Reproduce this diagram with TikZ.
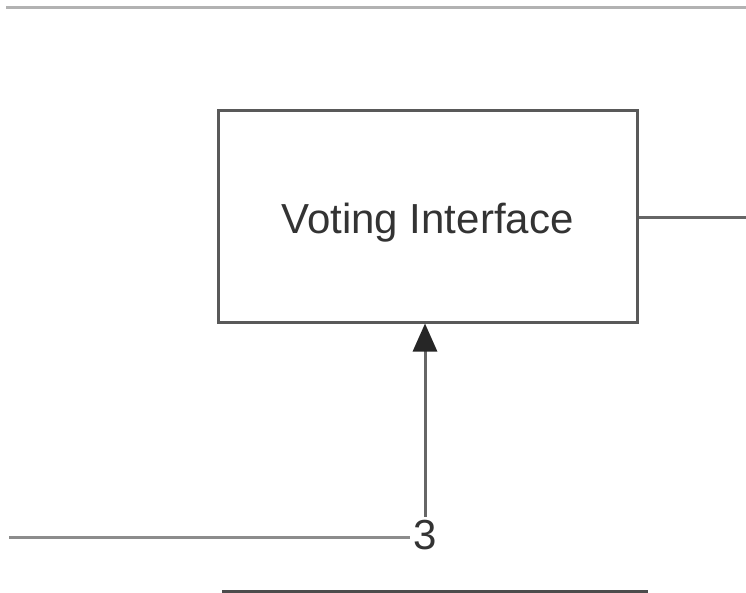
\documentclass[tikz,border=0pt]{standalone}
\usepackage{fontspec}
\setmainfont{Liberation Sans}
\usetikzlibrary{arrows.meta}

\tikzset{
  blockbox/.style={draw=black!65, line width=3pt, minimum width=419pt, minimum height=212pt, inner sep=0pt},
  flowline/.style={draw=black!60, line width=3pt},
  flowlabel/.style={inner sep=3pt, text=black!80}
}

\begin{document}
\begin{tikzpicture}[x=1pt, y=-1pt, font=\fontsize{42}{50}\selectfont]
% Set the canvas to the reference size
\useasboundingbox (0,0) rectangle (746,592);

% Page edge at the top
\draw[black!30, line width=3pt] (6,7) -- (746,7);

% Main block and the step label
\node[blockbox, text=black!80] (vi) at (427.5,216) {\raisebox{-17pt}[0pt][0pt]{Voting Interface}};
\node[flowlabel] (lbl3) at (425,535) {3};

% Free ends of the connectors
\coordinate (leftend) at (9,537);
\coordinate (rightend) at (746,217);

% Connectors
\draw[flowline, -{Triangle[length=28pt, width=24pt, color=black!85]}] (lbl3) -- (vi.south -| lbl3);
\draw[flowline, draw=black!45] (leftend) -- (lbl3.west |- leftend);
\draw[flowline] (vi.east |- rightend) -- (rightend);

% Top edge of the next block
\draw[black!70, line width=3pt] (222,591) -- (648,591);
\end{tikzpicture}
\end{document}
